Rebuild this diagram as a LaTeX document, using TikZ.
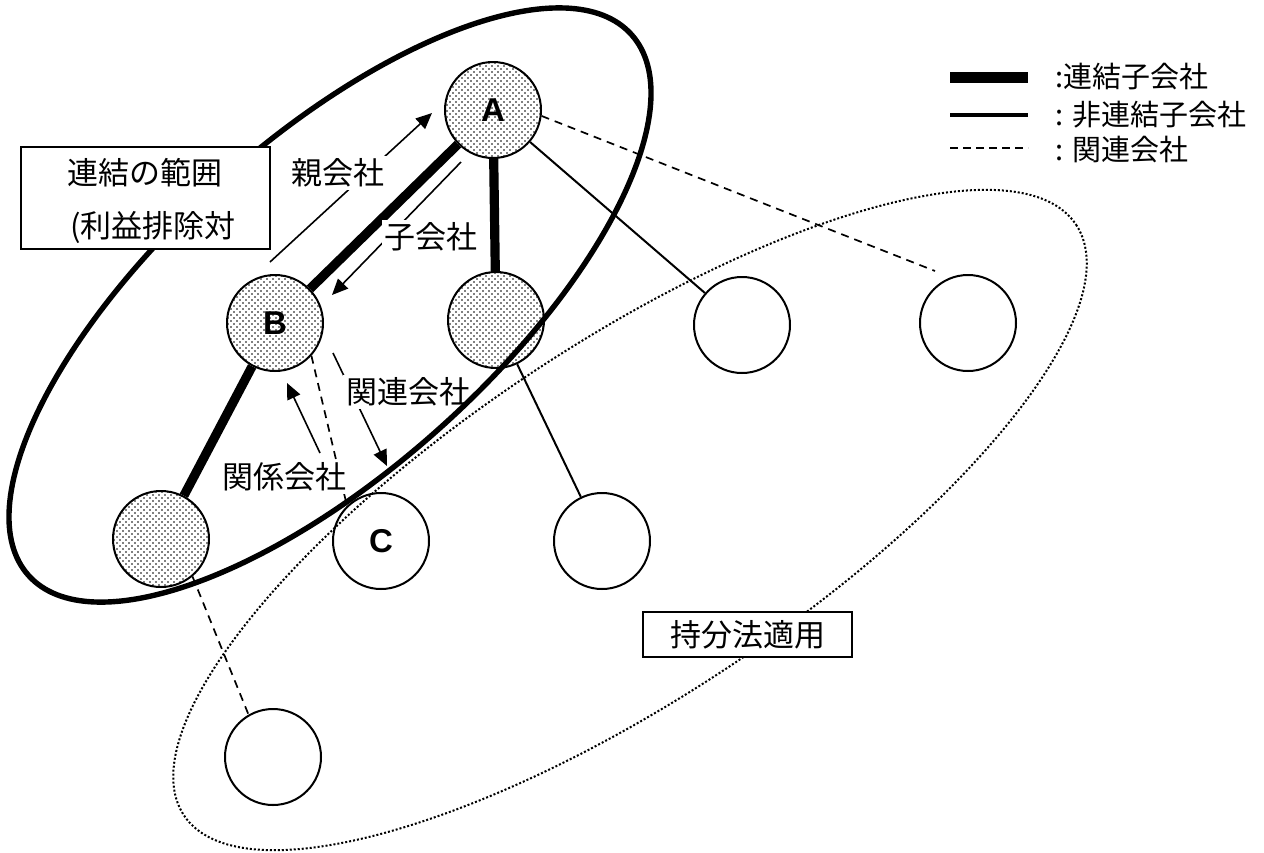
\documentclass[tikz,border=0pt]{standalone}
\usepackage{fontspec}
\setmainfont{Noto Sans CJK JP}
\newfontfamily\latinsans{Liberation Sans}
\usetikzlibrary{arrows.meta,patterns}
\pgfdeclarepatternformonly{finedots}{\pgfqpoint{-0.6pt}{-0.6pt}}{\pgfqpoint{2.1pt}{2.1pt}}{\pgfqpoint{3pt}{3pt}}{%
  \pgfpathcircle{\pgfqpoint{0pt}{0pt}}{0.45pt}%
  \pgfpathcircle{\pgfqpoint{1.5pt}{1.5pt}}{0.45pt}%
  \pgfusepath{fill}}
\tikzset{
  co/.style={circle, draw, line width=1pt, minimum size=48pt, inner sep=0pt, fill=white},
  shadedco/.style={circle, draw, line width=1pt, minimum size=48pt, inner sep=0pt,
    preaction={fill=white}, pattern=finedots},
  letter/.style={font=\latinsans\bfseries\fontsize{16.5}{18}\selectfont},
  conthick/.style={line width=4.6pt},
  conthin/.style={line width=1pt},
  condash/.style={line width=0.85pt, dash pattern=on 4pt off 3pt},
  arr/.style={line width=0.8pt, -{Triangle[length=8pt,width=7pt]}},
  jlab/.style={fill=white, inner sep=1.5pt, font=\fontsize{15.5}{17}\selectfont},
  boxtext/.style={inner sep=0pt, font=\fontsize{15.5}{17}\selectfont},
  legtext/.style={inner sep=0pt, anchor=west, font=\fontsize{14.5}{16}\selectfont},
  thickell/.style={line width=2.7pt},
  dotell/.style={line width=1pt, dash pattern=on 1pt off 1pt},
}
\begin{document}
\begin{tikzpicture}[x=0.5pt, y=-0.5pt]
\useasboundingbox (0,0) rectangle (1264,852);

% companies
\node[shadedco, letter] (A) at (493,110) {A};
\node[shadedco, letter] (B) at (275,323) {B};
\node[shadedco] (M) at (496,320) {};
\node[shadedco] (L) at (161,539) {};
\node[co, letter] (C) at (381,541) {C};
\node[co] (D) at (602,541) {};
\node[co] (E) at (742,325) {};
\node[co] (F) at (968,323) {};
\node[co] (G) at (273,757) {};

% connectors
\draw[conthick] (A) -- (B);
\draw[conthick] (A) -- (M);
\draw[conthick] (B) -- (L);
\draw[conthin] (A) -- (E);
\coordinate (fend) at (935,271);
\draw[condash] (A.-7) -- (fend);
\draw[conthin] (M) -- (D);
\draw[condash] (B.-42) -- (C.134);
\draw[condash] (L.-50) -- (G.120);

% relation arrows
\coordinate (p1) at (270,262);
\coordinate (p2) at (432,113);
\coordinate (c1) at (461,162);
\coordinate (c2) at (332,295);
\coordinate (k1) at (333,353);
\coordinate (k2) at (387,466);
\coordinate (r1) at (320,453);
\coordinate (r2) at (287,383);
\draw[arr] (p1) -- (p2);
\draw[arr] (c1) -- (c2);
\draw[arr] (k1) -- (k2);
\draw[arr] (r1) -- (r2);
\node[jlab] (lp) at (338,173) {親会社};
\node[jlab] (lc) at (431,237) {子会社};
\node[jlab] (lk) at (408,392) {関連会社};
\node[jlab] (lr) at (284,477) {関係会社};

% ranges
\draw[thickell, rotate around={41.9:(330,305)}] (330,305) ellipse [x radius=405, y radius=165];
\draw[dotell, rotate around={33.5:(630,520)}] (630,520) ellipse [x radius=535, y radius=177];

% boxes
\node[draw, line width=0.75pt, fill=white, minimum width=124.5pt, minimum height=51pt, inner sep=0pt] (rbox) at (145.5,198) {};
\node[boxtext] (rt1) at (145,173) {連結の範囲};
\node[boxtext] (rt2) at (153,227) {(利益排除対};
\node[draw, line width=0.75pt, fill=white, minimum width=104.5pt, minimum height=22.5pt, inner sep=0pt, font=\fontsize{15.5}{17}\selectfont] (ebox) at (747.5,634.5) {持分法適用};

% legend
\coordinate (l1a) at (950,77);
\coordinate (l1b) at (1028,77);
\coordinate (l2a) at (950,115);
\coordinate (l2b) at (1028,115);
\coordinate (l3a) at (950,148);
\coordinate (l3b) at (1028,148);
\draw[line width=5.5pt] (l1a) -- (l1b);
\draw[line width=2.2pt] (l2a) -- (l2b);
\draw[line width=1pt, dash pattern=on 4pt off 2.5pt] (l3a) -- (l3b);
\node[legtext] (lt1) at (1055,77) {:連結子会社};
\node[legtext] (lt2) at (1055,115) {: 非連結子会社};
\node[legtext] (lt3) at (1055,150) {: 関連会社};
\end{tikzpicture}
\end{document}
